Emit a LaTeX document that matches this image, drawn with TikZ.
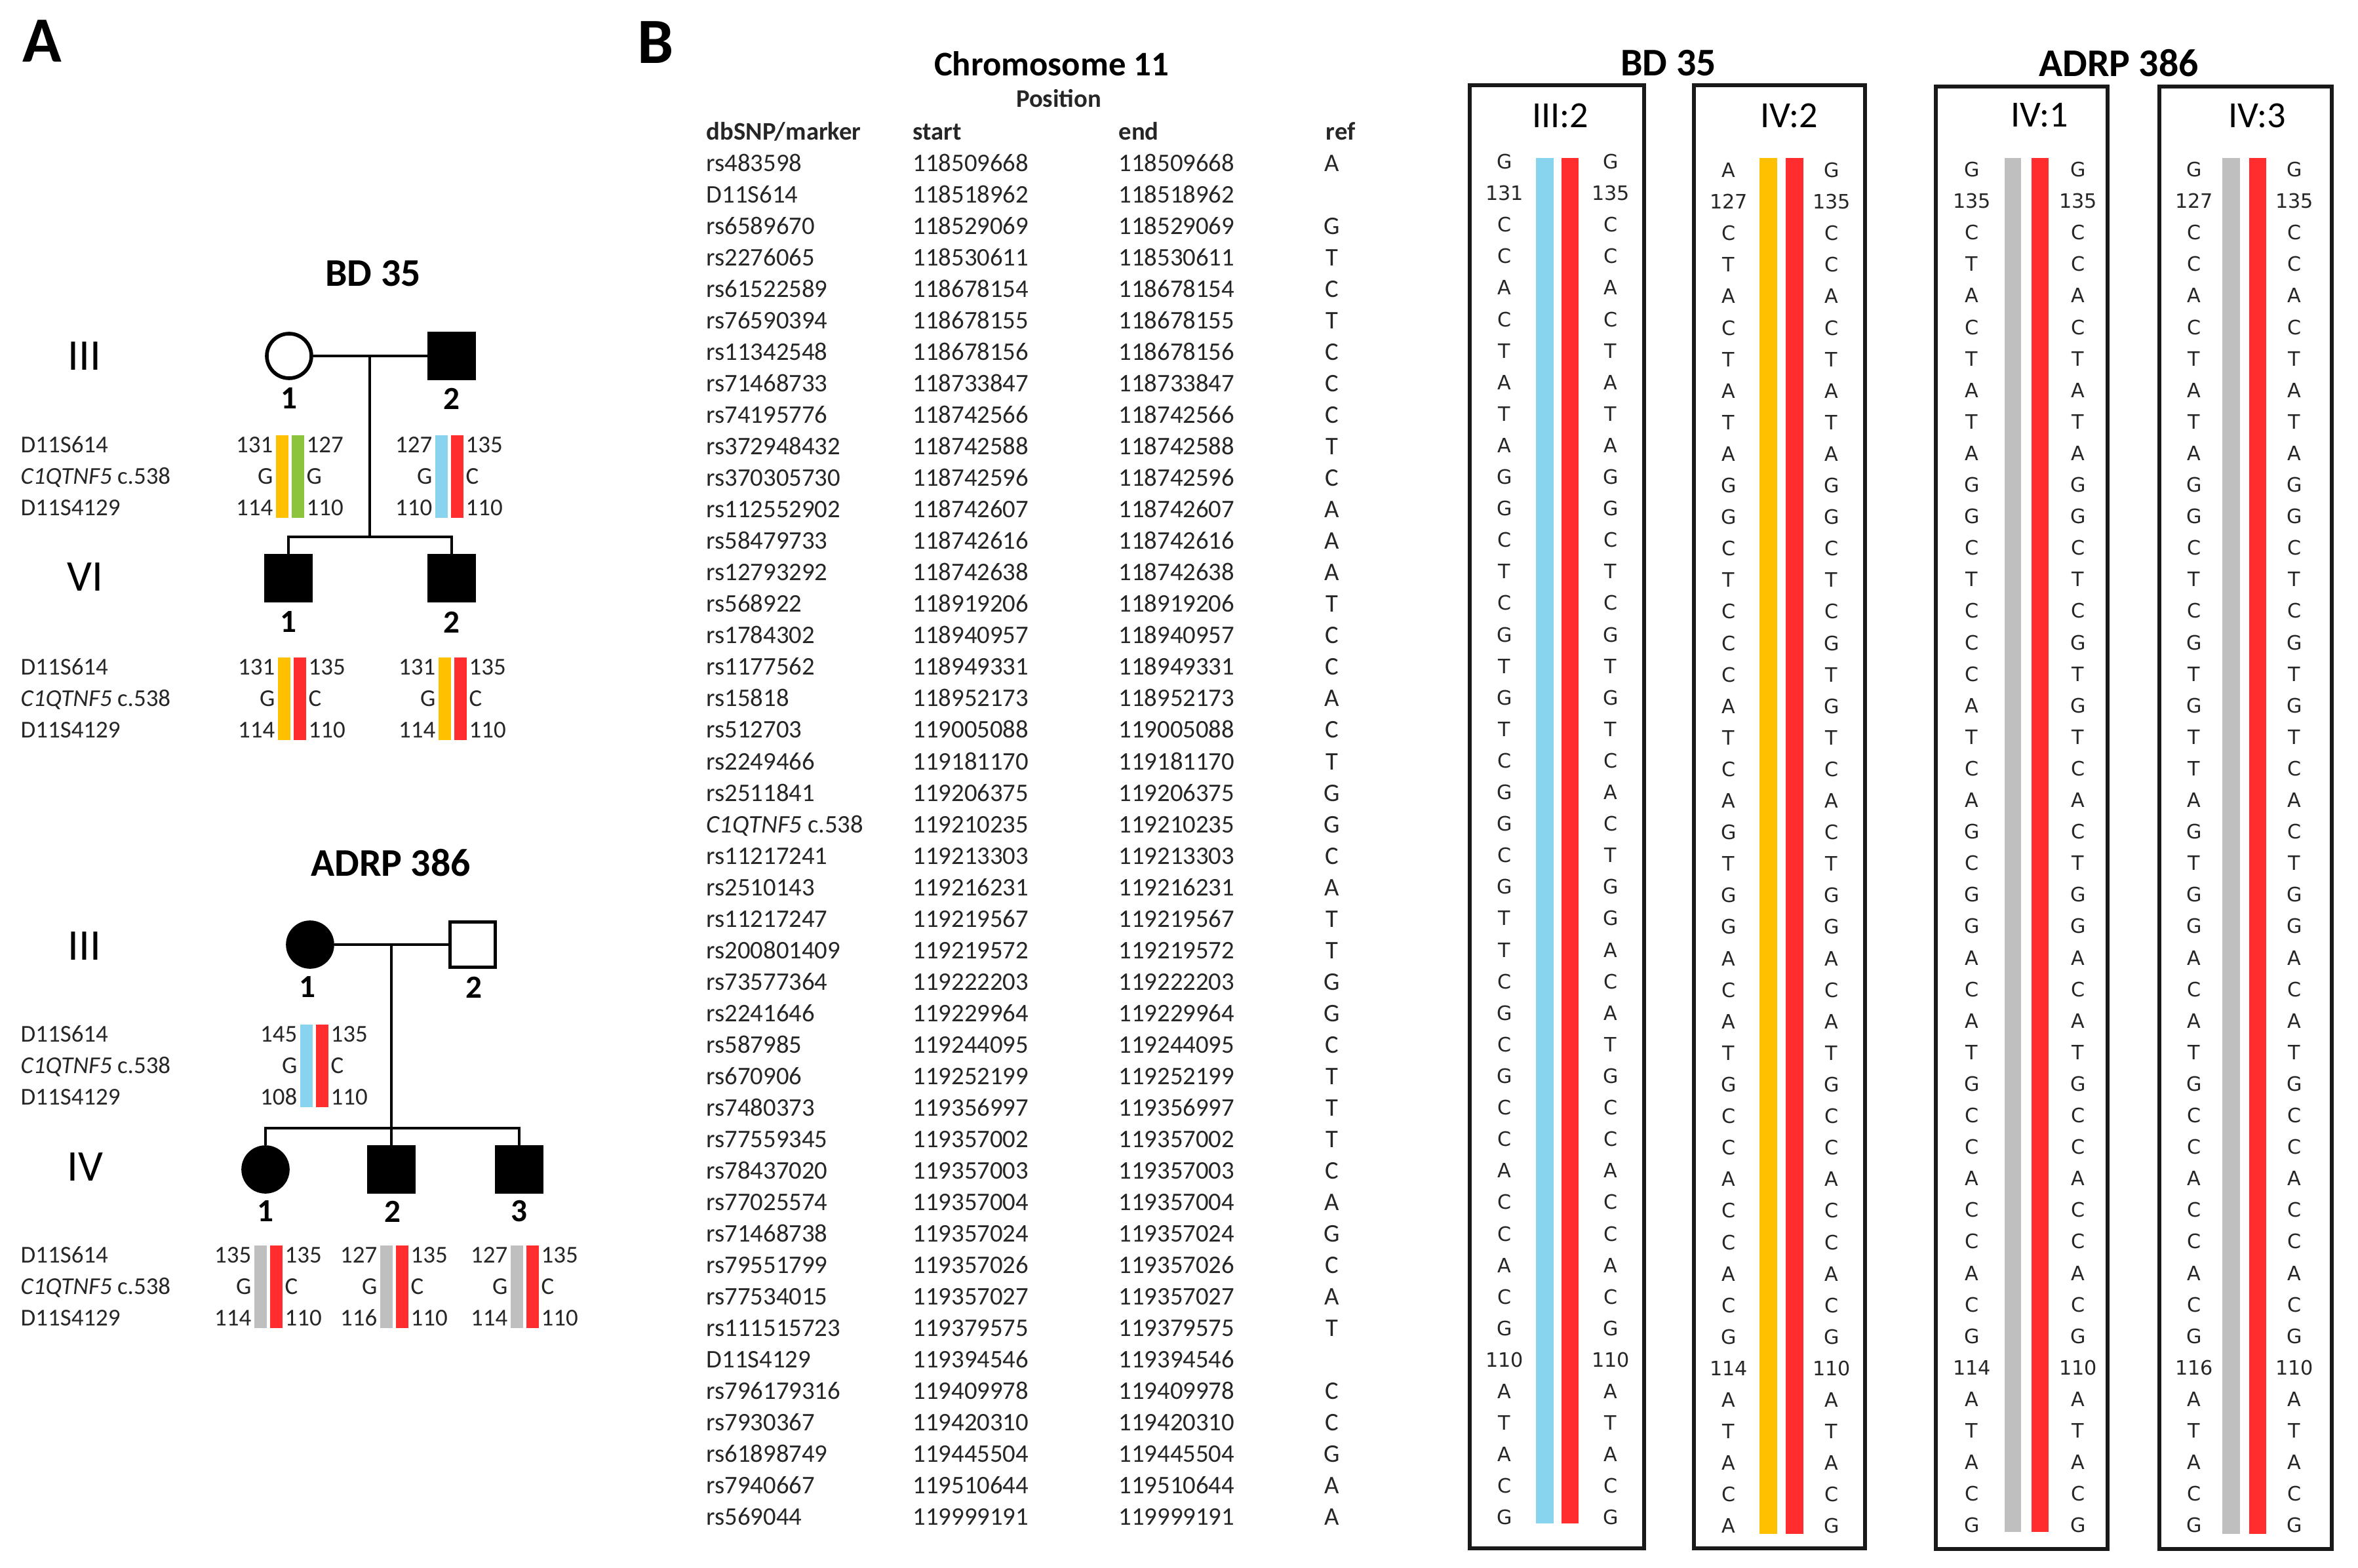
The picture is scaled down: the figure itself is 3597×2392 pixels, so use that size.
\documentclass[tikz,border=0pt]{standalone}
\usepackage{fontspec}
\setmainfont{Carlito}
\newfontfamily\nuclfont{DejaVu Sans}
\usepackage{tikz}
\pgfdeclarelayer{bg}
\pgfsetlayers{bg,main}

\definecolor{hapyellow}{HTML}{FFC000}
\definecolor{hapgreen}{HTML}{8CC43C}
\definecolor{hapblue}{HTML}{88D3EE}
\definecolor{hapred}{HTML}{FF2D2D}
\definecolor{hapgrey}{HTML}{BFBFBF}

% haplotypes read down chromosome 11
\def\seqred{G,135,C,C,A,C,T,A,T,A,G,G,C,T,C,G,T,G,T,C,A,C,T,G,G,A,C,A,T,G,C,C,A,C,C,A,C,G,110,A,T,A,C,G}
\def\seqblue{G,131,C,C,A,C,T,A,T,A,G,G,C,T,C,G,T,G,T,C,G,G,C,G,T,T,C,G,C,G,C,C,A,C,C,A,C,G,110,A,T,A,C,G}
\def\seqyellow{A,127,C,T,A,C,T,A,T,A,G,G,C,T,C,C,C,A,T,C,A,G,T,G,G,A,C,A,T,G,C,C,A,C,C,A,C,G,114,A,T,A,C,A}
\def\seqgreyone{G,135,C,T,A,C,T,A,T,A,G,G,C,T,C,C,C,A,T,C,A,G,C,G,G,A,C,A,T,G,C,C,A,C,C,A,C,G,114,A,T,A,C,G}
\def\seqgreythree{G,127,C,C,A,C,T,A,T,A,G,G,C,T,C,G,T,G,T,T,A,G,T,G,G,A,C,A,T,G,C,C,A,C,C,A,C,G,116,A,T,A,C,G}

% marker names left of a pedigree generation
\newcommand{\loci}[2]{%
  \node[locus] (#1a) at (31,#2) {D11S614};
  \node[locus] (#1b) at (31,{#2+48}) {\textit{C1QTNF5} c.538};
  \node[locus] (#1c) at (31,{#2+96}) {D11S4129};
}
% two coloured bars with the alleles beside them
\newcommand{\pedhap}[6]{%
  \fill[#4] ({#2-21.5},{#3-15}) rectangle ({#2-2.5},{#3+111});
  \fill[#5] ({#2+2.5},{#3-15}) rectangle ({#2+21.5},{#3+111});
  \foreach \al/\ar [count=\k] in {#6} {
    \node[allele, anchor=east] (#1l\k) at ({#2-25},{#3+(\k-1)*48}) {\al};
    \node[allele, anchor=west] (#1r\k) at ({#2+25},{#3+(\k-1)*48}) {\ar};
  }
}
% one column of a haplotype box
\newcommand{\hapcol}[4]{%
  \foreach \b [count=\i] in #4 {\node[nucl] (#1\i) at (#2,{#3+(\i-1)*48.1}) {\b};}
}

\begin{document}
\begin{tikzpicture}[x=0.1mm, y=-0.1mm,
    every node/.style={inner sep=0pt, text=black!85},
    panel/.style={font=\fontsize{28}{30}\selectfont\bfseries, text=black},
    famtitle/.style={font=\fontsize{17}{19}\selectfont\bfseries, text=black},
    gen/.style={font=\fontsize{19}{21}\selectfont, text=black},
    pednum/.style={font=\fontsize{14}{16}\selectfont\bfseries, text=black},
    locus/.style={font=\fontsize{10.5}{12}\selectfont, anchor=west, text height=1.4ex, text depth=0pt},
    allele/.style={font=\fontsize{10.5}{12}\selectfont, text height=1.4ex, text depth=0pt},
    female/.style={circle, draw, line width=1.6pt, minimum size=6.8mm},
    male/.style={rectangle, draw, line width=1.5pt, minimum size=6.9mm},
    affected/.style={fill=black},
    unaffected/.style={fill=white},
    ped/.style={line width=1.3pt},
    tab/.style={font=\fontsize{11}{13}\selectfont, anchor=west, text height=1.4ex, text depth=0pt},
    tabhead/.style={tab, font=\fontsize{11}{13}\selectfont\bfseries},
    boxtitle/.style={font=\fontsize{16}{18}\selectfont, text=black},
    nucl/.style={font=\nuclfont\fontsize{8.6}{10}\selectfont, text height=1.5ex, text depth=0pt},
    hapframe/.style={draw=black!90, line width=1.9pt}]
    \useasboundingbox (0,0) rectangle (3597,2392);

    \node[panel] (pA) at (64,63) {A};
    \node[panel] (pB) at (1000,65) {B};

    % BD 35 pedigree
    \node[famtitle] (bdt) at (569,417) {BD 35};
    \node[gen] (bdg3) at (129,543) {III};
    \node[gen] (bdg4) at (130,880) {VI};
    \node (bd31) [female, unaffected] at (441,543) {};
    \node (bd32) [male, affected] at (689,543) {};
    \node (bd41) [male, affected] at (440,882) {};
    \node (bd42) [male, affected] at (689,882) {};
    \node[pednum] (bd31n) at (441,608) {1};
    \node[pednum] (bd32n) at (689,608) {2};
    \node[pednum] (bd41n) at (440,949) {1};
    \node[pednum] (bd42n) at (689,949) {2};
    \coordinate (bdmid) at (564,543);
    \coordinate (bdsib) at (564,819);
    \begin{pgfonlayer}{bg}
        \draw[ped] (bd31) -- (bd32);
        \draw[ped] (bdmid) -- (bdsib);
        \draw[ped] (bd41) |- (bdsib) -| (bd42);
    \end{pgfonlayer}
    \loci{bdm3}{679}
    \loci{bdm4}{1018}
    \pedhap{bd31h}{442}{679}{hapyellow}{hapgreen}{131/127,G/G,114/110}
    \pedhap{bd32h}{685}{679}{hapblue}{hapred}{127/135,G/C,110/110}
    \pedhap{bd41h}{445}{1018}{hapyellow}{hapred}{131/135,G/C,114/110}
    \pedhap{bd42h}{690}{1018}{hapyellow}{hapred}{131/135,G/C,114/110}

    % ADRP 386 pedigree
    \node[famtitle] (adt) at (596,1316) {ADRP 386};
    \node[gen] (adg3) at (129,1443) {III};
    \node[gen] (adg4) at (130,1780) {IV};
    \node (ad31) [female, affected] at (473,1441) {};
    \node (ad32) [male, unaffected] at (721,1441) {};
    \node (ad41) [female, affected] at (405,1784) {};
    \node (ad42) [male, affected] at (597,1784) {};
    \node (ad43) [male, affected] at (792,1784) {};
    \node[pednum] (ad31n) at (469,1506) {1};
    \node[pednum] (ad32n) at (723,1506) {2};
    \node[pednum] (ad41n) at (405,1848) {1};
    \node[pednum] (ad42n) at (599,1848) {2};
    \node[pednum] (ad43n) at (792,1848) {3};
    \coordinate (admid) at (597,1441);
    \coordinate (adsib) at (597,1721);
    \begin{pgfonlayer}{bg}
        \draw[ped] (ad31) -- (ad32);
        \draw[ped] (admid) -- (ad42);
        \draw[ped] (ad41) |- (adsib) -| (ad43);
    \end{pgfonlayer}
    \loci{adm3}{1578}
    \loci{adm4}{1915}
    \pedhap{ad31h}{479}{1578}{hapblue}{hapred}{145/135,G/C,108/110}
    \pedhap{ad41h}{409}{1915}{hapgrey}{hapred}{135/135,G/C,114/110}
    \pedhap{ad42h}{601}{1915}{hapgrey}{hapred}{127/135,G/C,116/110}
    \pedhap{ad43h}{800}{1915}{hapgrey}{hapred}{127/135,G/C,114/110}

    % chromosome 11 table
    \node[famtitle, font=\fontsize{15}{17}\selectfont\bfseries] (chr) at (1604,97) {Chromosome 11};
    \node[tabhead, anchor=center] (pos) at (1615,152) {Position};
    \node[tabhead] (hname) at (1077,202) {dbSNP/marker};
    \node[tabhead] (hstart) at (1392,202) {start};
    \node[tabhead] (hend) at (1706,202) {end};
    \node[tabhead] (href) at (2022,202) {ref};
    \foreach \nm/\st/\en/\rf [count=\i] in {
        rs483598/118509668/118509668/A, D11S614/118518962/118518962/{},
        rs6589670/118529069/118529069/G, rs2276065/118530611/118530611/T,
        rs61522589/118678154/118678154/C, rs76590394/118678155/118678155/T,
        rs11342548/118678156/118678156/C, rs71468733/118733847/118733847/C,
        rs74195776/118742566/118742566/C, rs372948432/118742588/118742588/T,
        rs370305730/118742596/118742596/C, rs112552902/118742607/118742607/A,
        rs58479733/118742616/118742616/A, rs12793292/118742638/118742638/A,
        rs568922/118919206/118919206/T, rs1784302/118940957/118940957/C,
        rs1177562/118949331/118949331/C, rs15818/118952173/118952173/A,
        rs512703/119005088/119005088/C, rs2249466/119181170/119181170/T,
        rs2511841/119206375/119206375/G, \textit{C1QTNF5} c.538/119210235/119210235/G,
        rs11217241/119213303/119213303/C, rs2510143/119216231/119216231/A,
        rs11217247/119219567/119219567/T, rs200801409/119219572/119219572/T,
        rs73577364/119222203/119222203/G, rs2241646/119229964/119229964/G,
        rs587985/119244095/119244095/C, rs670906/119252199/119252199/T,
        rs7480373/119356997/119356997/T, rs77559345/119357002/119357002/T,
        rs78437020/119357003/119357003/C, rs77025574/119357004/119357004/A,
        rs71468738/119357024/119357024/G, rs79551799/119357026/119357026/C,
        rs77534015/119357027/119357027/A, rs111515723/119379575/119379575/T,
        D11S4129/119394546/119394546/{}, rs796179316/119409978/119409978/C,
        rs7930367/119420310/119420310/C, rs61898749/119445504/119445504/G,
        rs7940667/119510644/119510644/A, rs569044/119999191/119999191/A} {
        \pgfmathsetmacro{\ry}{249.5+(\i-1)*48.04}
        \node[tab] (nm\i) at (1077,\ry) {\nm};
        \node[tab] (st\i) at (1392,\ry) {\st};
        \node[tab] (en\i) at (1706,\ry) {\en};
        \node[tab, anchor=center] (rf\i) at (2032,\ry) {\rf};
    }

    % haplotype boxes
    \node[famtitle] (bdt2) at (2545,96) {BD 35};
    \node[famtitle] (adt2) at (3232,96) {ADRP 386};

    \draw[hapframe] (2242,130) rectangle (2508,2362);
    \node[boxtitle] (t32) at (2380,176) {III:2};
    \fill[hapblue] (2343,241) rectangle (2370,2324);
    \fill[hapred] (2382,241) rectangle (2408,2324);
    \hapcol{h32l}{2295}{245}{\seqblue}
    \hapcol{h32r}{2457}{245}{\seqred}

    \draw[hapframe] (2584,130) rectangle (2845,2362);
    \node[boxtitle] (t42) at (2729,176) {IV:2};
    \fill[hapyellow] (2684,241) rectangle (2711,2340);
    \fill[hapred] (2724,241) rectangle (2751,2340);
    \hapcol{h42l}{2637}{258}{\seqyellow}
    \hapcol{h42r}{2794}{258}{\seqred}

    \draw[hapframe] (2953,132) rectangle (3215,2363);
    \node[boxtitle] (t41) at (3111,176) {IV:1};
    \fill[hapgrey] (3058,241) rectangle (3083,2337);
    \fill[hapred] (3099,241) rectangle (3125,2337);
    \hapcol{h41l}{3008}{257}{\seqgreyone}
    \hapcol{h41r}{3170}{257}{\seqred}

    \draw[hapframe] (3294,132) rectangle (3557,2363);
    \node[boxtitle] (t43) at (3443,176) {IV:3};
    \fill[hapgrey] (3390,241) rectangle (3417,2340);
    \fill[hapred] (3431,241) rectangle (3457,2340);
    \hapcol{h43l}{3347}{257}{\seqgreythree}
    \hapcol{h43r}{3500}{257}{\seqred}
\end{tikzpicture}
\end{document}
